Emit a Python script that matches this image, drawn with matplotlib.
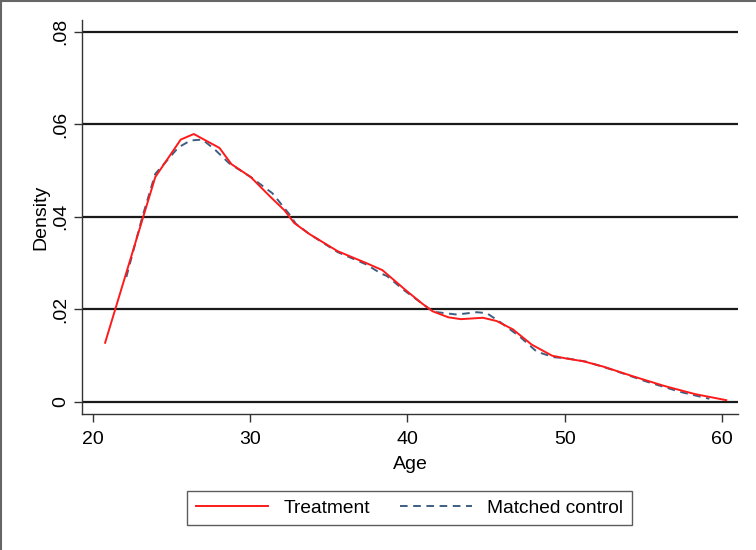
import matplotlib
matplotlib.use("Agg")
import matplotlib.pyplot as plt
from matplotlib.lines import Line2D

plt.rcParams['font.family'] = ['Liberation Sans', 'DejaVu Sans']
plt.rcParams['lines.scale_dashes'] = False

# Data
treat_age = [20.77, 23.96, 25.58, 26.41, 28.04, 28.80, 30.03, 31.26, 32.18, 32.79,
             33.71, 35.55, 37.39, 38.40, 39.84, 40.92, 41.60, 42.60, 43.40, 44.80,
             45.67, 46.70, 47.90, 49.20, 50.10, 51.19, 52.50, 54.30, 56.30, 58.30, 60.27]
treat_dens = [0.0128, 0.0486, 0.0567, 0.0579, 0.0549, 0.0514, 0.0486, 0.0444, 0.0414, 0.0387,
              0.0364, 0.0326, 0.0300, 0.0285, 0.0243, 0.0213, 0.0196, 0.0183, 0.0179, 0.0182,
              0.0175, 0.0157, 0.0124, 0.0100, 0.0094, 0.0088, 0.0076, 0.0056, 0.0035, 0.0017, 0.0004]

ctrl_age = [22.12, 23.13, 23.96, 24.66, 25.43, 26.20, 26.96, 27.73, 28.65, 30.03,
            31.41, 32.48, 32.90, 33.80, 35.55, 37.39, 38.30, 38.70, 39.84, 40.92,
            41.64, 43.13, 44.40, 45.04, 45.88, 47.15, 48.21, 49.27, 50.20, 51.39,
            53.09, 55.21, 57.33, 58.81, 59.20]
ctrl_dens = [0.0270, 0.0399, 0.0493, 0.0520, 0.0550, 0.0565, 0.0567, 0.0546, 0.0516, 0.0486,
             0.0451, 0.0406, 0.0385, 0.0362, 0.0324, 0.0297, 0.0278, 0.0272, 0.0240, 0.0213,
             0.0195, 0.0189, 0.0194, 0.0192, 0.0173, 0.0141, 0.0109, 0.0097, 0.0094, 0.0087,
             0.0069, 0.0044, 0.0022, 0.0010, 0.0007]

x_ticks = [20, 30, 40, 50, 60]
y_ticks = [0, 0.02, 0.04, 0.06, 0.08]
y_tick_labels = ["0", ".02", ".04", ".06", ".08"]

fig = plt.figure(figsize=(7.56, 5.5), dpi=100)
ax = fig.add_axes([82/756, 1 - 414/550, (738-82)/756, (414-20)/550])

for yv in y_ticks:
    ax.axhline(yv, color='#1a1a1a', lw=1.6, zorder=1)

ax.plot(ctrl_age, ctrl_dens, color='#3e5f82', lw=1.4, dashes=(5.5, 4), zorder=3)
ax.plot(treat_age, treat_dens, color='#ff1a1a', lw=1.4, zorder=4)

ax.set_xlim(19.30, 61.02)
ax.set_ylim(-0.00259, 0.08253)
ax.set_xticks(x_ticks)
ax.set_yticks(y_ticks)
ax.set_yticklabels(y_tick_labels, rotation=90, va='center')

for s in ['top', 'right']:
    ax.spines[s].set_visible(False)
for s in ['left', 'bottom']:
    ax.spines[s].set_color('#333333')
    ax.spines[s].set_linewidth(1.0)

ax.tick_params(axis='both', length=6, width=1.0, color='#333333', labelsize=14)
ax.tick_params(axis='x', pad=6)
ax.tick_params(axis='y', pad=3)

ax.set_xlabel("Age", fontsize=14, labelpad=6)
ax.set_ylabel("Density", fontsize=14, labelpad=2)

handles = [Line2D([], [], color='#ff1a1a', lw=1.4),
           Line2D([], [], color='#3e5f82', lw=1.4, dashes=(5.5, 4))]
leg = fig.legend(handles, ["Treatment", "Matched control"], ncol=2,
                 loc='center', bbox_to_anchor=(409.5/756, 1 - 508/550),
                 fontsize=13.8, frameon=True, fancybox=False, edgecolor='#333333',
                 handlelength=3.8, handletextpad=0.78, columnspacing=1.55,
                 borderpad=0.45, borderaxespad=0)
leg.get_frame().set_linewidth(1.0)

# figure border (left and top)
fig.add_artist(Line2D([1/756, 1/756], [0, 1], transform=fig.transFigure, color='#666666', lw=1.5))
fig.add_artist(Line2D([0, 1], [1 - 1/550, 1 - 1/550], transform=fig.transFigure, color='#666666', lw=1.5))

fig.savefig("out.png", dpi=100)
